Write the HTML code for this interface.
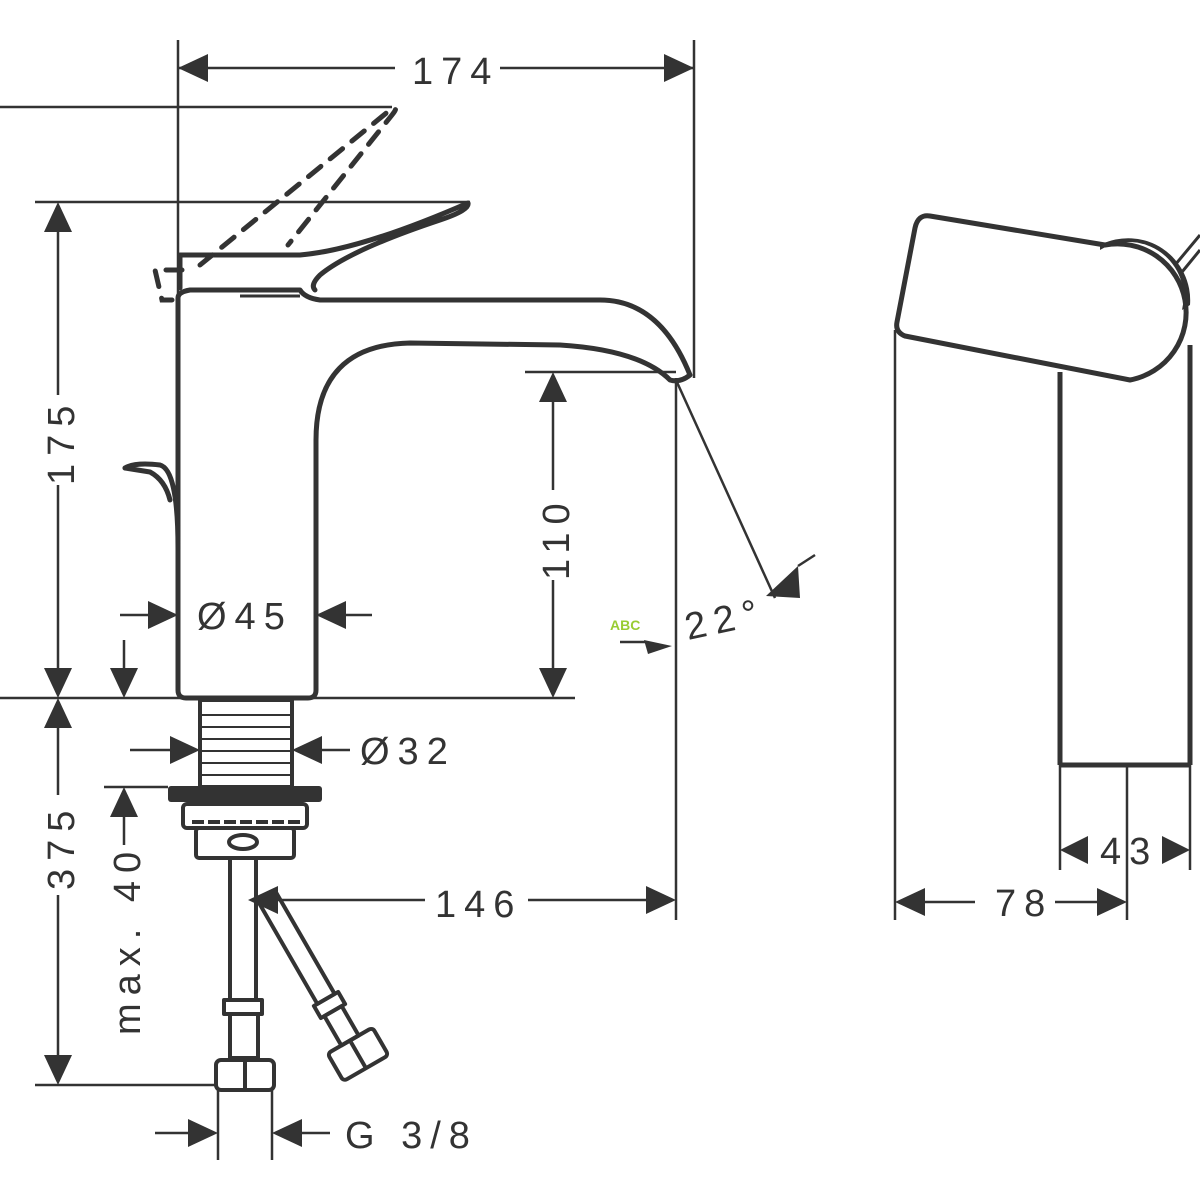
<!DOCTYPE html>
<html><head><meta charset="utf-8"><style>html,body{margin:0;padding:0;background:#fff}svg{display:block}</style></head>
<body>
<svg width="1200" height="1200" viewBox="0 0 1200 1200" xmlns="http://www.w3.org/2000/svg" font-family="Liberation Sans, sans-serif" fill="none" stroke="#333">
<g stroke-width="2.5">
<line x1="178" y1="40" x2="178" y2="300"/>
<line x1="694" y1="40" x2="694" y2="378"/>
<line x1="0" y1="107" x2="392" y2="107"/>
<line x1="35" y1="202" x2="470" y2="202"/>
<line x1="0" y1="698" x2="575" y2="698"/>
<line x1="525" y1="372" x2="676" y2="372"/>
<line x1="676" y1="378" x2="676" y2="920"/>
<line x1="35" y1="1085" x2="218" y2="1085"/>
<line x1="104" y1="787" x2="168" y2="787"/>
<line x1="218" y1="1090" x2="218" y2="1160"/>
<line x1="272" y1="1090" x2="272" y2="1160"/>
<line x1="676" y1="380" x2="775" y2="598"/>
<line x1="178" y1="68" x2="395" y2="68"/><line x1="500" y1="68" x2="694" y2="68"/>
</g>
<g fill="#333" stroke="none">
<path d="M178,68l30,-14v28z"/><path d="M694,68l-30,-14v28z"/>
<path d="M58,202l-14,30h28z"/><path d="M58,698l-14,-30h28z"/>
<path d="M58,698l-14,30h28z"/><path d="M58,1085l-14,-30h28z"/>
<path d="M553,372l-14,30h28z"/><path d="M553,698l-14,-30h28z"/>
<path d="M178,615l-30,-14v28z"/><path d="M316,615l30,-14v28z"/>
<path d="M124,698l-14,-30h28z"/>
<path d="M200,750l-30,-14v28z"/><path d="M292,750l30,-14v28z"/>
<path d="M124,787l-14,30h28z"/>
<path d="M248,900l30,-14v28z"/><path d="M676,900l-30,-14v28z"/>
<path d="M218,1133l-30,-14v28z"/><path d="M272,1133l30,-14v28z"/>
<path d="M766,596l32,-30l2,32z"/>
<path d="M672,646l-28,-6l4,14z"/>
<path d="M1060,850l28,-14v28z"/><path d="M1190,850l-28,-14v28z"/>
<path d="M895,902l30,-14v28z"/><path d="M1127,902l-30,-14v28z"/>
</g>
<g stroke-width="2.5">
<line x1="58" y1="232" x2="58" y2="395"/><line x1="58" y1="485" x2="58" y2="668"/>
<line x1="58" y1="728" x2="58" y2="795"/><line x1="58" y1="895" x2="58" y2="1055"/>
<line x1="553" y1="402" x2="553" y2="490"/><line x1="553" y1="580" x2="553" y2="668"/>
<line x1="120" y1="615" x2="150" y2="615"/><line x1="346" y1="615" x2="372" y2="615"/>
<line x1="124" y1="640" x2="124" y2="670"/>
<line x1="130" y1="750" x2="172" y2="750"/><line x1="320" y1="750" x2="350" y2="750"/>
<line x1="124" y1="817" x2="124" y2="845"/>
<line x1="278" y1="900" x2="425" y2="900"/><line x1="528" y1="900" x2="648" y2="900"/>
<line x1="155" y1="1133" x2="190" y2="1133"/><line x1="300" y1="1133" x2="330" y2="1133"/>
<line x1="798" y1="566" x2="815" y2="555"/>
<line x1="620" y1="642" x2="646" y2="642"/>
<line x1="895" y1="330" x2="895" y2="920"/>
<line x1="1060" y1="765" x2="1060" y2="870"/><line x1="1127" y1="765" x2="1127" y2="920"/>
<line x1="1190" y1="765" x2="1190" y2="870"/>
<line x1="925" y1="902" x2="975" y2="902"/><line x1="1055" y1="902" x2="1097" y2="902"/>
</g>
<g stroke-width="5" stroke-linejoin="round" stroke-linecap="round">
<path d="M178,298 L178,690 Q178,698 186,698 L308,698 Q316,698 316,690 L316,440 Q316,345 410,343 L560,345 Q640,350 670,380 Q680,383 690,375 Q660,300 600,300 L320,300 Q305,298 300,290 L190,290 Q178,292 178,298z"/>
<path d="M180,288 L180,255 L300,255 Q360,250 468,203 Q470,210 440,220 Q350,250 320,275 Q310,285 315,290"/>
<path d="M125,468 Q135,462 160,465 Q178,470 178,548"/>
<path d="M125,468 L150,472 Q165,480 170,500"/>
</g>
<path d="M240,296 L300,296" stroke-width="3"/>
<g stroke-width="5" stroke-dasharray="16,12" stroke-linecap="round">
<path d="M200,265 L390,110 Q400,105 392,115 L288,245"/>
<path d="M182,270 L155,270 L162,300 L172,300"/>
</g>
<rect x="200" y="700" width="92" height="87" stroke-width="4"/>
<g stroke-width="2">
<line x1="200" y1="715" x2="292" y2="715"/><line x1="200" y1="727" x2="292" y2="727"/><line x1="200" y1="739" x2="292" y2="739"/><line x1="200" y1="751" x2="292" y2="751"/><line x1="200" y1="763" x2="292" y2="763"/><line x1="200" y1="775" x2="292" y2="775"/>
</g>
<rect x="168" y="786" width="154" height="16" rx="3" fill="#333" stroke="none"/>
<g stroke-width="4" stroke-linejoin="round">
<rect x="183" y="804" width="124" height="24" rx="4"/>
<rect x="196" y="828" width="98" height="30" rx="3"/>
<line x1="192" y1="822" x2="300" y2="822" stroke-dasharray="12,4"/>
<ellipse cx="243" cy="842" rx="14" ry="7"/>
<line x1="230" y1="858" x2="230" y2="1000"/><line x1="256" y1="858" x2="256" y2="1000"/>
<rect x="224" y="1000" width="38" height="14"/>
<rect x="230" y="1014" width="28" height="44"/>
<rect x="216" y="1060" width="58" height="30" rx="5"/>
<line x1="245" y1="1062" x2="245" y2="1090"/>
<g transform="translate(266,895) rotate(-30)">
<rect x="-10" y="0" width="20" height="120"/>
<rect x="-14" y="120" width="28" height="14"/>
<rect x="-10" y="134" width="20" height="34"/>
<rect x="-26" y="168" width="52" height="32" rx="4"/>
<line x1="0" y1="170" x2="0" y2="200"/>
</g>
</g>
<g stroke-width="5" stroke-linejoin="round">
<path d="M930,216 L1105,245 A62,62 0 0 1 1130,380 L905,336 Q895,332 897,322 L915,228 Q918,214 930,216z"/>
<line x1="1060" y1="372" x2="1060" y2="765"/>
<line x1="1190" y1="345" x2="1190" y2="765"/>
<line x1="1060" y1="765" x2="1190" y2="765"/>
<path d="M1175,265 L1200,235 M1182,272 L1200,250" stroke-width="3"/>
</g>
<path d="M1100,245 A62,62 0 0 1 1190,305 L1182,310 A55,55 0 0 0 1100,250z" fill="#333" stroke="none"/>
<g fill="#333" stroke="none" font-size="38" letter-spacing="8">
<text x="412" y="84">174</text>
<text x="74" y="485" transform="rotate(-90 74 485)">175</text>
<text x="569" y="580" transform="rotate(-90 569 580)">110</text>
<text x="74" y="890" transform="rotate(-90 74 890)">375</text>
<text x="140" y="1035" transform="rotate(-90 140 1035)">max. 40</text>
<text x="197" y="629">Ø45</text>
<text x="360" y="764">Ø32</text>
<text x="435" y="917">146</text>
<text x="345" y="1148">G 3/8</text>
<text x="688" y="640" transform="rotate(-12 688 640)">22°</text>
<text x="1100" y="864">43</text>
<text x="995" y="916">78</text>
</g>
<text x="610" y="630" font-size="14" fill="#9c3" stroke="none" font-weight="bold">ABC</text>
</svg>
</body></html>
